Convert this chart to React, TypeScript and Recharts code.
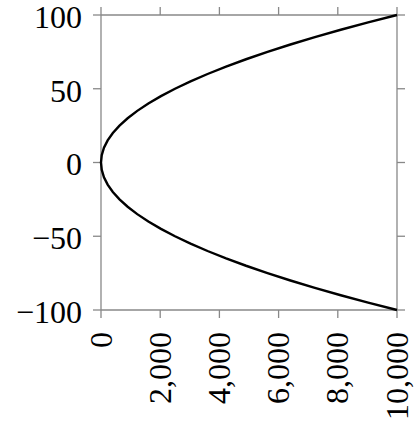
import React from 'react';
import { ScatterChart, Scatter, XAxis, YAxis } from 'recharts';

const yValues = [-100, -95, -90, -85, -80, -75, -70, -65, -60, -55, -50, -45, -40, -35, -30, -25, -20, -15, -10, -5, 0,
  5, 10, 15, 20, 25, 30, 35, 40, 45, 50, 55, 60, 65, 70, 75, 80, 85, 90, 95, 100];
const xValues = [10000, 9025, 8100, 7225, 6400, 5625, 4900, 4225, 3600, 3025, 2500, 2025, 1600, 1225, 900, 625, 400, 225, 100, 25, 0,
  25, 100, 225, 400, 625, 900, 1225, 1600, 2025, 2500, 3025, 3600, 4225, 4900, 5625, 6400, 7225, 8100, 9025, 10000];
const xTicks = [0, 2000, 4000, 6000, 8000, 10000];
const yTicks = [-100, -50, 0, 50, 100];

const data = yValues.map((y, i) => ({ x: xValues[i], y }));

const FONT = '"Liberation Serif", "Times New Roman", serif';
const FRAME = '#888888';

const fmtX = (v: number) => v.toLocaleString('en-US');
const fmtY = (v: number) => (v < 0 ? '\u2212' + Math.abs(v) : String(v));

const XTick = (props: any) => {
  const { x, y, payload } = props;
  const ty = y + 12;
  return (
    <text
      x={x}
      y={ty}
      transform={`rotate(-90, ${x}, ${ty})`}
      textAnchor="end"
      dy="0.33em"
      fontFamily={FONT}
      fontSize={32}
      fill="#000"
    >
      {fmtX(payload.value)}
    </text>
  );
};

const YTick = (props: any) => {
  const { x, y, payload } = props;
  return (
    <text x={x} y={y} textAnchor="end" dy="0.4em" fontFamily={FONT} fontSize={32} fill="#000">
      {fmtY(payload.value)}
    </text>
  );
};

const NoShape = () => <g />;

export default function App() {
  return (
    <div style={{ position: 'absolute', left: 0, top: 0, width: 415, height: 430, background: '#fff' }}>
      <ScatterChart width={415} height={430} margin={{ top: 0, right: 0, bottom: 0, left: 0 }} style={{ overflow: 'visible' }}>
        <XAxis
          xAxisId="bottom"
          type="number"
          dataKey="x"
          domain={[0, 10000]}
          ticks={xTicks}
          orientation="bottom"
          height={120}
          axisLine={{ stroke: FRAME, strokeWidth: 1.3 }}
          tickLine={{ stroke: FRAME, strokeWidth: 1.3 }}
          tickSize={8}
          tick={<XTick />}
          interval={0}
        />
        <XAxis
          xAxisId="top"
          type="number"
          dataKey="x"
          domain={[0, 10000]}
          ticks={xTicks}
          orientation="top"
          height={15}
          axisLine={{ stroke: FRAME, strokeWidth: 1.3 }}
          tickLine={{ stroke: FRAME, strokeWidth: 1.3 }}
          tickSize={8}
          tick={<NoShape />}
          interval={0}
        />
        <YAxis
          yAxisId="left"
          type="number"
          dataKey="y"
          domain={[-100, 100]}
          ticks={yTicks}
          orientation="left"
          width={101}
          axisLine={{ stroke: FRAME, strokeWidth: 1.3 }}
          tickLine={{ stroke: FRAME, strokeWidth: 1.3 }}
          tickSize={8}
          tickMargin={11}
          tick={<YTick />}
          interval={0}
        />
        <YAxis
          yAxisId="right"
          type="number"
          dataKey="y"
          domain={[-100, 100]}
          ticks={yTicks}
          orientation="right"
          width={18}
          axisLine={{ stroke: FRAME, strokeWidth: 1.3 }}
          tickLine={{ stroke: FRAME, strokeWidth: 1.3 }}
          tickSize={8}
          tick={<NoShape />}
          interval={0}
        />
        <Scatter
          xAxisId="top"
          yAxisId="right"
          data={data}
          shape={<NoShape />}
          isAnimationActive={false}
        />
        <Scatter
          xAxisId="bottom"
          yAxisId="left"
          data={data}
          line={{ stroke: '#000', strokeWidth: 2.4 }}
          lineType="joint"
          shape={<NoShape />}
          isAnimationActive={false}
        />
      </ScatterChart>
    </div>
  );
}
